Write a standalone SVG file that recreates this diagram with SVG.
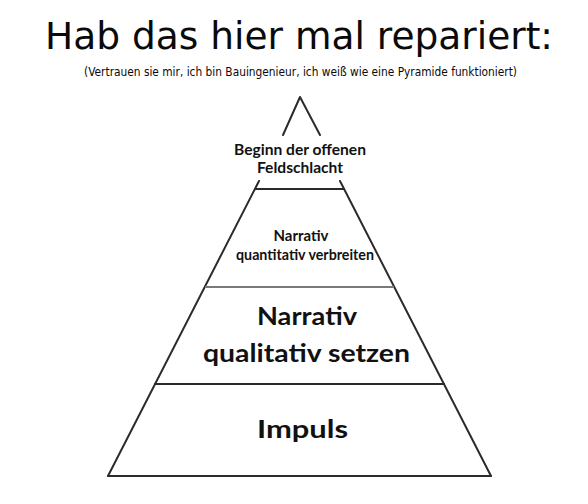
<svg xmlns="http://www.w3.org/2000/svg" width="588" height="504" viewBox="0 0 588 504">
<style>
.ln{fill:none;stroke:#2b2b2b;stroke-width:2;stroke-linecap:round;stroke-linejoin:round}
.mid{fill:none;stroke:#7a7a7a;stroke-width:2}
.title{font-family:"DejaVu Sans","Liberation Sans",sans-serif;fill:#0a0a0a}
.lbl{font-family:Lato,"Open Sans","Liberation Sans",sans-serif;fill:#111;text-anchor:middle}
.sm{font-size:14.5px;font-weight:bold}
.big{font-size:24px;font-weight:bold}
</style>
<rect width="588" height="504" fill="#ffffff"/>
<g id="title">
<text class="title" x="45" y="49" font-size="37" textLength="508" lengthAdjust="spacingAndGlyphs">Hab das hier mal repariert:</text>
<text class="title" x="84" y="76" font-size="12" textLength="433" lengthAdjust="spacingAndGlyphs">(Vertrauen sie mir, ich bin Bauingenieur, ich weiß wie eine Pyramide funktioniert)</text>
</g>
<g id="connectors">
<polyline class="ln" points="283,135 300,97 320,135"/>
<line class="ln" x1="108" y1="476" x2="259" y2="181"/>
<line class="ln" x1="491" y1="476" x2="340" y2="181"/>
<line class="ln" x1="108" y1="476" x2="491" y2="476"/>
<line class="ln" x1="255" y1="189" x2="344" y2="189"/>
<line class="mid" x1="205" y1="287" x2="394" y2="287"/>
<line class="ln" x1="155" y1="384" x2="444" y2="384"/>
</g>
<g id="node-top">
<text class="lbl sm" x="300" y="155" textLength="132" lengthAdjust="spacingAndGlyphs">Beginn der offenen</text>
<text class="lbl sm" x="300" y="173" textLength="86" lengthAdjust="spacingAndGlyphs">Feldschlacht</text>
</g>
<g id="node-quantitativ">
<text class="lbl sm" x="301" y="241" textLength="55" lengthAdjust="spacingAndGlyphs">Narrativ</text>
<text class="lbl sm" x="305" y="260" textLength="138" lengthAdjust="spacingAndGlyphs">quantitativ verbreiten</text>
</g>
<g id="node-qualitativ">
<text class="lbl big" x="307" y="325" textLength="100" lengthAdjust="spacingAndGlyphs">Narrativ</text>
<text class="lbl big" x="306.5" y="362" textLength="207" lengthAdjust="spacingAndGlyphs">qualitativ setzen</text>
</g>
<g id="node-impuls">
<text class="lbl big" x="302.5" y="438" textLength="91" lengthAdjust="spacingAndGlyphs">Impuls</text>
</g>
</svg>
